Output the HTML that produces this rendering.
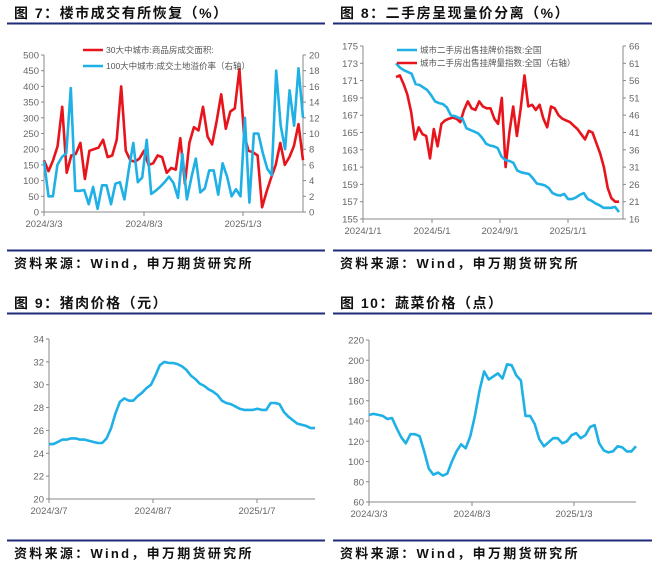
<!DOCTYPE html>
<html><head><meta charset="utf-8"><style>
body{margin:0;background:#fff;width:660px;height:570px;overflow:hidden;font-family:"Liberation Sans","Noto Sans CJK SC",sans-serif}
svg{position:absolute;left:0;top:0}
</style></head><body>
<svg id="s" width="660" height="570" xmlns="http://www.w3.org/2000/svg" font-family="Liberation Sans, Noto Sans CJK SC, sans-serif"></svg>
<script>
// Fig 7
const f7Red=[165,130,165,210,335,125,180,185,220,105,195,200,205,230,175,180,230,400,195,165,160,170,195,150,155,180,175,125,140,135,235,90,220,270,260,335,240,215,290,375,265,320,330,455,250,195,190,180,15,65,110,150,220,150,175,210,280,165];
const f7Blue=[6.5,2,2,6,7,7.5,15.8,2.7,2.7,2.8,1,3.2,0.4,3.4,3.4,1,3.6,3.8,1.6,5.4,8.8,3.8,4.4,9.2,2.3,2.7,3.2,3.8,4.5,3.7,1.8,7.4,1.6,4.4,6.8,2.5,3,5.3,5.3,2.2,6.2,4.5,2,2.9,2,12,1.2,10,10,7.5,5.5,4.7,18,11,8,15.5,11,18.3,12];
const f7LeftTicks=["0","50","100","150","200","250","300","350","400","450","500"];
const f7RightTicks=["0","2","4","6","8","10","12","14","16","18","20"];
const f7XLabels=["2024/3/3","2024/8/3","2025/1/3"];
// Fig 8
const f8Blue=[173,172.5,172.2,172,171.8,170.6,170.5,170.2,169.9,169.3,168.6,168.4,168.3,167.9,167,166.9,166.7,166.6,165.5,165.3,165.1,164.9,164.4,163.7,163.5,163.4,163.2,162.2,161.8,161.7,161.5,160.6,160.4,160.3,160.2,159.7,159.1,159.0,158.9,158.6,158,157.8,157.7,157.9,157.3,157.3,157.5,157.8,158,157.3,157.1,156.8,156.6,156.3,156.3,156.3,156.4,155.8];
const f8Red=[57,57.5,55,52,47,39,42.5,40.5,40,33.5,42,37,43.5,44.5,45,45.3,45,44,47.5,50,48,47.5,50,48.5,48,48,45,43.5,51,31,41,48.5,40,48,57.5,48.5,49,47.5,49,45,42.5,48.5,48,46,45,44.5,44,43,42,40.5,39,41.5,41,38,35,31,25,22,21,21];
const f8LeftTicks=["155","157","159","161","163","165","167","169","171","173","175"];
const f8RightTicks=["16","21","26","31","36","41","46","51","56","61","66"];
const f8XLabels=["2024/1/1","2024/5/1","2024/9/1","2025/1/1"];
// Fig 9
const f9Pork=[24.8,24.8,25,25.2,25.2,25.3,25.3,25.2,25.2,25.1,25,24.9,24.9,25.3,26.2,27.5,28.5,28.8,28.6,28.6,29,29.3,29.7,30,30.8,31.7,32,31.9,31.9,31.8,31.6,31.3,30.8,30.5,30.1,29.9,29.6,29.4,29.1,28.6,28.4,28.3,28.1,27.9,27.8,27.8,27.8,27.9,27.8,27.8,28.4,28.4,28.3,27.6,27.2,26.9,26.6,26.5,26.4,26.2,26.2];
const f9Ticks=["20","22","24","26","28","30","32","34"];
const f9XLabels=["2024/3/7","2024/8/7","2025/1/7"];
// Fig 10
const f10Veg=[146,147,146,145,142,143,133,124,118,127,127,125,110,93,87,89,86,88,100,110,117,113,125,145,170,189,181,184,187,182,196,195,185,180,145,145,137,122,115,119,123,123,118,120,126,128,123,126,134,136,118,111,109,110,115,114,110,110,115];
const f10Ticks=["60","80","100","120","140","160","180","200","220"];
const f10XLabels=["2024/3/3","2024/8/3","2025/1/3"];

const S=document.getElementById('s');
function el(t,a,txt){const e=document.createElementNS('http://www.w3.org/2000/svg',t);for(const k in a)e.setAttribute(k,a[k]);if(txt!==undefined)e.textContent=txt;S.appendChild(e);return e;}
function lin(d0,d1,r0,r1){return v=>r0+(v-d0)*(r1-r0)/(d1-d0);}
function panel(x0,y0,x1,title,name){
  const t=el('text',{x:x0+7,y:y0+18,'font-size':14,'font-weight':'bold',fill:'#111','letter-spacing':'1.5'},title);
  
  const r=el('line',{x1:x0,x2:x1,y1:y0+23.5,y2:y0+23.5,stroke:'#1f2a78','stroke-width':2});
  
  const r2=el('line',{x1:x0,x2:x1,y1:y0+250.5,y2:y0+250.5,stroke:'#1f2a78','stroke-width':2});
  
  const s=el('text',{x:x0+7,y:y0+268,'font-size':13,'font-weight':'bold',fill:'#111','letter-spacing':'2.3'},'资料来源：Wind，申万期货研究所');
  
}
function axisY(x,ticks,ysc,vals,side,name){
  const l=el('line',{x1:x,x2:x,y1:ysc(vals[0]),y2:ysc(vals[vals.length-1]),stroke:'#888'});
  
  ticks.forEach((tk,i)=>{const y=ysc(vals[i]);
    el('line',{x1:side<0?x-3:x,x2:side<0?x:x+3,y1:y,y2:y,stroke:'#888'});
    const t=el('text',{x:side<0?x-5:x+6,y:y+3.5,'font-size':9.5,fill:'#666','text-anchor':side<0?'end':'start'},tk);
    });
}
function axisX(y,x0,x1,labels,xs,name){
  const l=el('line',{x1:x0,x2:x1,y1:y,y2:y,stroke:'#888'});
  
  labels.forEach((lb,i)=>{el('line',{x1:xs[i],x2:xs[i],y1:y,y2:y+4,stroke:'#888'});
    const t=el('text',{x:xs[i],y:y+15,'font-size':9.5,fill:'#666','text-anchor':'middle'},lb);
    });
}
function series(data,xa,xb,ysc,color,name){
  const n=data.length;const pts=data.map((v,i)=>(xa+i*(xb-xa)/(n-1)).toFixed(1)+','+ysc(v).toFixed(1)).join(' ');
  const p=el('polyline',{points:pts,fill:'none',stroke:color,'stroke-width':2.6,'stroke-linejoin':'round'});
  
}
const RED='#e8141c',BLUE='#1fb0e6';
function nums(a){return a.map(Number);}

// Panel 7
panel(7,0,325,'图 7：楼市成交有所恢复（%）','fig7');
{const yl=lin(0,500,212,55),yr=lin(0,20,212,55);
axisY(44,f7LeftTicks,yl,nums(f7LeftTicks),-1,'fig7-left-axis');
axisY(303,f7RightTicks,yr,nums(f7RightTicks),1,'fig7-right-axis');
axisX(212,44,303,f7XLabels,[44,144,243],'fig7-x-axis');
series(f7Red,44,303,yl,RED,'fig7-area-line');
series(f7Blue,44,303,yr,BLUE,'fig7-premium-line');
el('line',{x1:83,x2:103,y1:50,y2:50,stroke:RED,'stroke-width':2.6});
let t=el('text',{x:106,y:53,'font-size':8.5,fill:'#555'},'30大中城市:商品房成交面积:');
el('line',{x1:83,x2:103,y1:66,y2:66,stroke:BLUE,'stroke-width':2.6});
t=el('text',{x:106,y:69,'font-size':8.5,fill:'#555'},'100大中城市:成交土地溢价率（右轴）');}

// Panel 8
panel(333,0,652,'图 8：二手房呈现量价分离（%）','fig8');
{const yl=lin(155,175,219,46),yr=lin(16,66,219,46);
axisY(363,f8LeftTicks,yl,nums(f8LeftTicks),-1,'fig8-left-axis');
axisY(623,f8RightTicks,yr,nums(f8RightTicks),1,'fig8-right-axis');
axisX(219,363,623,f8XLabels,[363,432,500,568],'fig8-x-axis');
series(f8Red,396,619,yr,RED,'fig8-volume-line');
series(f8Blue,396,619,yl,BLUE,'fig8-price-line');
el('line',{x1:397,x2:417,y1:50,y2:50,stroke:BLUE,'stroke-width':2.6});
let t=el('text',{x:420,y:53,'font-size':8.5,fill:'#555'},'城市二手房出售挂牌价指数:全国');
el('line',{x1:397,x2:417,y1:63,y2:63,stroke:RED,'stroke-width':2.6});
t=el('text',{x:420,y:66,'font-size':8.5,fill:'#555'},'城市二手房出售挂牌量指数:全国（右轴）');}

// Panel 9
panel(7,290,325,'图 9：猪肉价格（元）','fig9');
{const y=lin(20,34,499,339);
axisY(49,f9Ticks,y,nums(f9Ticks),-1,'fig9-y-axis');
axisX(499,49,315,f9XLabels,[49,153,257],'fig9-x-axis');
series(f9Pork,49,315,y,BLUE,'fig9-pork-line');}

// Panel 10
panel(333,290,652,'图 10：蔬菜价格（点）','fig10');
{const y=lin(60,220,502,340);
axisY(369,f10Ticks,y,nums(f10Ticks),-1,'fig10-y-axis');
axisX(502,369,636,f10XLabels,[369,472,574],'fig10-x-axis');
series(f10Veg,369,636,y,BLUE,'fig10-veg-line');}
</script>
</body></html>
